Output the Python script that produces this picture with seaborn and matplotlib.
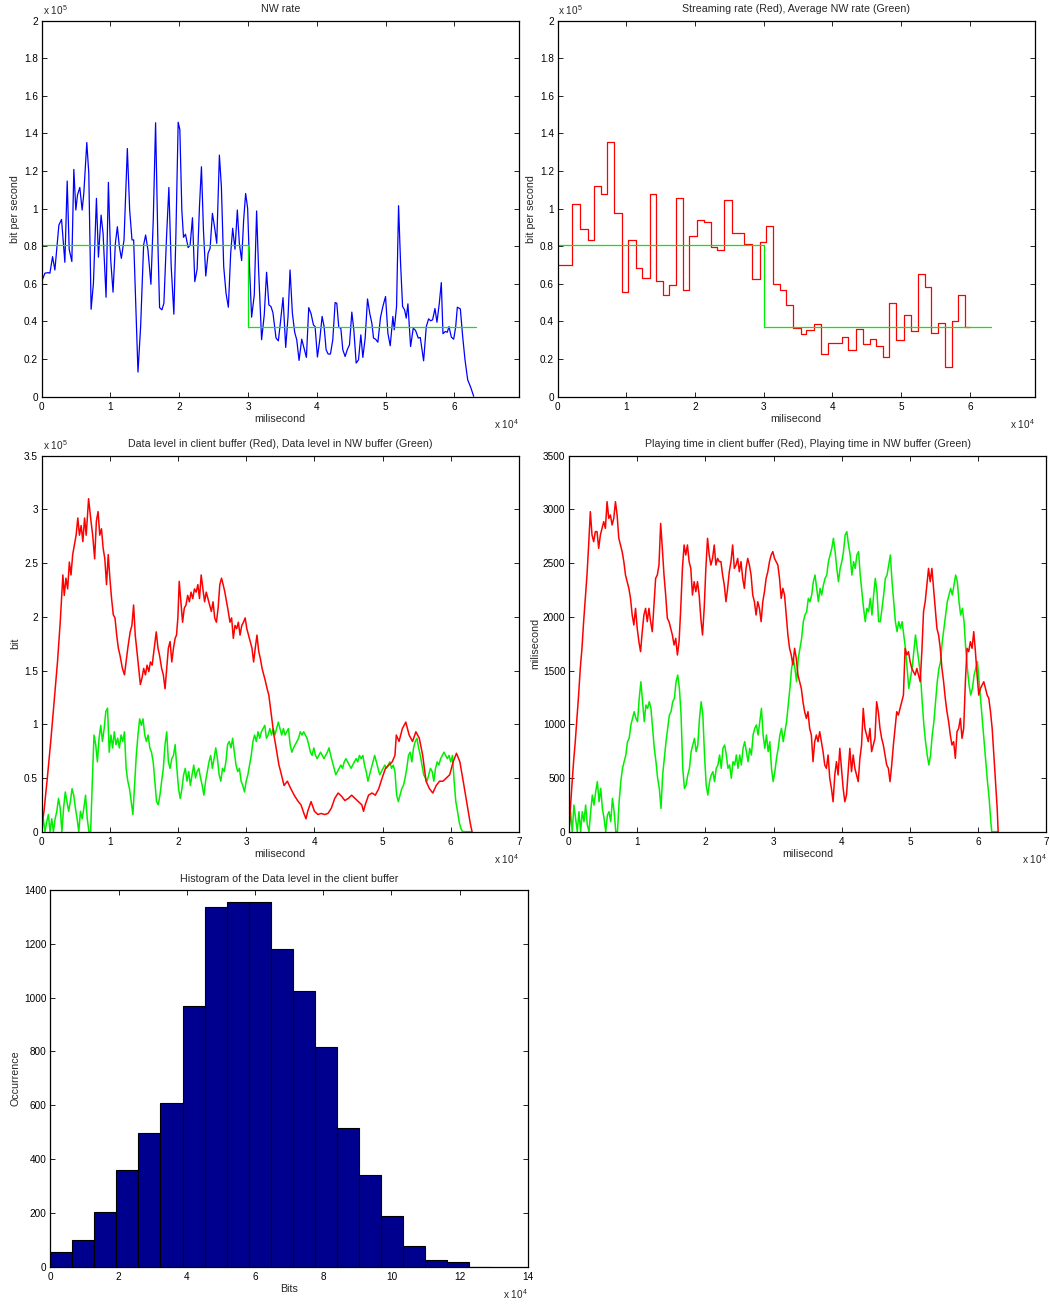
import numpy as np
import pandas as pd
import matplotlib
matplotlib.use("Agg")
import matplotlib.pyplot as plt
import seaborn as sns

# ---------------- data ----------------
# Panel 1: NW rate (blue). time in ms, rate in units of 1e4 bit/s
nw_t = [0, 483, 966, 1208, 1594, 1932, 2512, 2899, 3382, 3720, 4010, 4396, 4686, 4976, 5217, 5556,
        5894, 6135, 6570, 6860, 7198, 7536, 7971, 8261, 8647, 8937, 9372, 9710, 10048, 10386, 10725,
        11014, 11304, 11594, 11981, 12464, 12802, 13140, 13382, 14010, 14396, 14831, 15121, 15459,
        15894, 16232, 16570, 16908, 17150, 17488, 17778, 18164, 18502, 18841, 19227, 19517, 19855,
        20097, 20386, 20628, 20918, 21305, 21594, 21932, 22271, 22609, 22947, 23237, 23527, 23865,
        24203, 24493, 24831, 25169, 25459, 25845, 26135, 26473, 26812, 27150, 27488, 27778, 28116,
        28454, 28744, 29082, 29372, 29662, 29952, 30242, 30531, 30918, 31256, 31546, 31981, 32367,
        32705, 33043, 33333, 33623, 33961,
        34078, 34418, 34758, 35097, 35486, 35826, 36117, 36457, 36796, 37088, 37427, 37816, 38155,
        38495, 38835, 39175, 39515, 39757, 40097, 40437, 40777, 41068, 41359, 41650, 41990, 42330,
        42670, 42912, 43204, 43495, 43786, 44126, 44466, 44757, 45097, 45388, 45728, 46068, 46407,
        46699, 47038, 47378, 47718, 48009, 48252, 48543, 48883, 49271, 49611, 49999, 50339, 50679,
        51067, 51261, 51601, 51892, 52184, 52475, 52766, 53009, 53251, 53640, 54028, 54368, 54756,
        55047, 55533, 55921, 56261, 56552, 56843, 57183, 57474, 57814, 58105, 58348, 58688, 58979,
        59222, 59562, 59901, 60193, 60435, 60872, 61212, 61552, 61940, 62377, 62814]
nw_rate = [6.12, 6.57, 6.60, 6.57, 7.45, 6.74, 9.13, 9.43, 7.15, 11.47, 7.84, 7.19, 12.09, 9.93, 10.73,
           11.13, 9.93, 10.81, 13.52, 11.88, 4.65, 6.04, 10.55, 7.42, 9.66, 8.69, 5.29, 11.40, 7.27,
           5.56, 8.16, 9.04, 7.98, 7.36, 8.34, 13.20, 9.93, 8.34, 8.34, 1.31, 3.73, 8.07, 8.60, 7.81,
           5.98, 9.40, 14.57, 8.16, 4.74, 4.62, 4.97, 8.51, 11.13, 6.92, 4.39, 8.51, 14.60, 14.20,
           9.93, 8.48, 8.64, 7.93, 8.07, 9.52, 6.12, 6.78, 10.10, 12.23, 8.87, 6.42, 7.63, 7.89, 9.75,
           8.96, 8.16, 12.85, 11.17, 6.92, 5.50, 4.76, 7.63, 8.96, 7.84, 9.93, 8.16, 7.24, 9.40, 10.81,
           10.02, 6.74, 4.23, 5.42, 9.88, 6.74, 3.03, 4.35, 6.62, 4.88, 4.80, 4.48, 3.50,
           3.12, 2.97, 4.09, 5.27, 2.62, 4.27, 6.74, 4.44, 3.42, 3.03, 1.93, 3.06, 2.58, 2.09, 4.74,
           4.41, 3.82, 3.73, 2.11, 3.03, 4.27, 3.73, 2.50, 2.27, 2.27, 3.03, 5.01, 4.97, 3.68, 3.65,
           2.50, 2.14, 2.53, 2.76, 4.50, 3.56, 1.79, 1.96, 3.29, 2.09, 3.12, 5.20, 4.41, 3.91, 3.12,
           3.06, 2.90, 4.23, 4.80, 5.33, 3.38, 2.71, 4.27, 3.56, 4.80, 10.16, 7.10, 4.80, 4.62, 4.18,
           4.94, 2.67, 3.65, 3.52, 3.12, 3.15, 1.91, 3.73, 4.14, 4.04, 4.09, 4.69, 3.96, 4.97, 6.07,
           3.35, 3.47, 3.43, 3.73, 3.17, 3.06, 3.70, 4.76, 4.67, 3.20, 1.96, 0.90, 0.50, 0.02]

# Average NW rate (green), ms and bit/s
avg_t = [0, 30000, 30000, 63100]
avg_rate = [80700, 80700, 37100, 37100]

# Panel 2: streaming rate steps (red). edges in ms, rate in 1e4 bit/s
stream_edges = [0, 2100, 3300, 4400, 5300, 6400, 7200, 8200, 9400, 10200, 11400, 12300, 13400, 14300,
                15300, 16200, 17200, 18300, 19200, 20300, 21300, 22300, 23200, 24200, 25400, 27200,
                28300, 29400, 30300, 31300, 32300, 33300, 34300, 35400, 36200, 37300, 38300, 39300,
                41400, 42300, 43400, 44400, 45400, 46400, 47400, 48300, 49300, 50400, 51500, 52400,
                53400, 54400, 55400, 56400, 57400, 58300, 59300, 60000]
stream_rate = [7.0, 10.23, 8.9, 8.35, 11.2, 10.76, 13.53, 9.79, 5.57, 8.32, 6.84, 6.33, 10.78, 6.13,
               5.41, 5.92, 10.59, 5.66, 8.55, 9.41, 9.27, 7.98, 7.8, 10.44, 8.69, 8.12, 6.24, 8.21,
               9.06, 5.99, 5.66, 4.86, 3.63, 3.32, 3.53, 3.88, 2.25, 2.84, 3.19, 2.48, 3.58, 2.8, 3.05,
               2.7, 2.09, 4.98, 3.0, 4.36, 3.48, 6.52, 5.83, 3.37, 3.9, 1.6, 4.02, 5.41, 3.7]

# Panel 3: data level in client buffer (red): time in 1e4 ms, level in 1e5 bit
client_t = [0.000, 0.035, 0.084, 0.134, 0.183, 0.233, 0.273, 0.297, 0.312, 0.332,
            0.357, 0.382, 0.407, 0.431, 0.456, 0.481, 0.506, 0.531, 0.555, 0.580,
            0.605, 0.630, 0.654, 0.689, 0.719, 0.749, 0.778, 0.803, 0.828, 0.853,
            0.878, 0.902, 0.927, 0.952, 0.977, 1.001, 1.026, 1.051, 1.076, 1.101,
            1.125, 1.150, 1.185, 1.215, 1.239, 1.264, 1.299, 1.324, 1.349, 1.373,
            1.398, 1.423, 1.448, 1.472, 1.497, 1.522, 1.547, 1.572, 1.596, 1.621,
            1.646, 1.681, 1.706, 1.730, 1.760, 1.785, 1.810, 1.834, 1.859, 1.884,
            1.909, 1.934, 1.958, 1.978, 1.998, 2.018, 2.043, 2.067, 2.092, 2.117,
            2.142, 2.167, 2.191, 2.216, 2.241, 2.266, 2.291, 2.315, 2.340, 2.365,
            2.390, 2.414, 2.439, 2.464, 2.489, 2.514, 2.538, 2.563, 2.588, 2.613,
            2.638, 2.662, 2.687, 2.712, 2.737, 2.762, 2.786, 2.811, 2.836, 2.861,
            2.885, 2.910, 2.935, 2.960, 2.985, 3.009, 3.034, 3.059, 3.084, 3.109,
            3.133, 3.158, 3.183, 3.208, 3.233, 3.257, 3.282, 3.307, 3.332, 3.356,
            3.381, 3.406, 3.431, 3.456, 3.480, 3.505, 3.555, 3.604, 3.654, 3.704,
            3.753, 3.803, 3.852, 3.877, 3.902, 3.951, 4.001, 4.051, 4.100, 4.150,
            4.199, 4.249, 4.298, 4.348, 4.398, 4.447, 4.497, 4.546, 4.596, 4.646,
            4.695, 4.720, 4.745, 4.794, 4.844, 4.893, 4.943, 4.993, 5.042, 5.092,
            5.141, 5.181, 5.201, 5.241, 5.290, 5.340, 5.389, 5.439, 5.488, 5.538,
            5.588, 5.637, 5.687, 5.736, 5.786, 5.835, 5.885, 5.934, 5.984, 6.034,
            6.083, 6.133, 6.182, 6.232, 6.282, 6.311]
client_level = [0.03, 0.19, 0.50, 0.84, 1.21, 1.58, 1.95, 2.23, 2.39, 2.20,
                2.36, 2.26, 2.51, 2.39, 2.58, 2.67, 2.76, 2.92, 2.76, 2.85,
                2.70, 2.92, 2.76, 3.10, 2.92, 2.76, 2.54, 2.89, 2.98, 2.76,
                2.82, 2.64, 2.54, 2.30, 2.58, 2.36, 2.17, 2.02, 1.99, 1.83,
                1.71, 1.64, 1.52, 1.46, 1.58, 1.71, 1.86, 1.92, 2.11, 1.83,
                1.68, 1.52, 1.37, 1.43, 1.52, 1.46, 1.55, 1.49, 1.58, 1.55,
                1.68, 1.86, 1.71, 1.64, 1.52, 1.46, 1.33, 1.52, 1.71, 1.77,
                1.58, 1.71, 1.80, 1.83, 1.99, 2.33, 2.14, 1.95, 2.08, 2.11,
                2.20, 2.14, 2.23, 2.17, 2.26, 2.23, 2.30, 2.17, 2.39, 2.26,
                2.14, 2.23, 2.17, 2.11, 2.05, 2.14, 1.99, 1.95, 2.08, 2.30,
                2.36, 2.30, 2.23, 2.14, 2.05, 1.95, 1.99, 1.80, 1.92, 1.89,
                1.95, 1.83, 1.92, 1.95, 1.99, 1.89, 1.83, 1.77, 1.71, 1.58,
                1.71, 1.83, 1.68, 1.61, 1.52, 1.46, 1.40, 1.33, 1.27, 1.15,
                1.02, 0.90, 0.81, 0.71, 0.62, 0.56, 0.43, 0.47, 0.40, 0.34,
                0.29, 0.25, 0.16, 0.12, 0.19, 0.28, 0.19, 0.16, 0.17, 0.16,
                0.17, 0.22, 0.31, 0.36, 0.33, 0.29, 0.31, 0.34, 0.31, 0.28,
                0.25, 0.19, 0.25, 0.34, 0.36, 0.34, 0.40, 0.50, 0.59, 0.62,
                0.65, 0.71, 0.90, 0.84, 0.96, 1.02, 0.90, 0.84, 0.93, 0.87,
                0.71, 0.47, 0.40, 0.36, 0.43, 0.47, 0.47, 0.50, 0.53, 0.65,
                0.73, 0.65, 0.47, 0.28, 0.09, 0.00]

# Panel 3: data level in NW buffer (green), sampled every 247.9 ms, level in 1e5 bit
nwbuf_step_ms = 247.9
nwbuf_end_ms = 63110
nwbuf_level = [0, 0.12, 0, 0.09, 0.16, 0, 0.12, 0, 0.12, 0.19,
               0.31, 0.22, 0, 0.22, 0.37, 0.28, 0.19, 0.28, 0.40, 0.34,
               0.22, 0.12, 0, 0.19, 0.12, 0.22, 0.34, 0.12, 0, 0,
               0.47, 0.90, 0.81, 0.65, 0.87, 0.99, 0.84, 0.96, 1.12, 1.15,
               0.74, 0.90, 0.78, 0.93, 0.81, 0.87, 0.78, 0.90, 0.84, 0.93,
               0.59, 0.47, 0.40, 0.28, 0.16, 0.43, 0.71, 0.90, 1.05, 0.99,
               1.05, 0.90, 0.84, 0.90, 0.78, 0.74, 0.65, 0.47, 0.28, 0.25,
               0.34, 0.47, 0.59, 0.81, 0.93, 0.65, 0.59, 0.68, 0.71, 0.81,
               0.59, 0.40, 0.31, 0.40, 0.53, 0.59, 0.47, 0.56, 0.43, 0.53,
               0.62, 0.50, 0.56, 0.59, 0.50, 0.43, 0.34, 0.47, 0.56, 0.65,
               0.71, 0.59, 0.68, 0.78, 0.68, 0.53, 0.47, 0.59, 0.56, 0.65,
               0.81, 0.84, 0.78, 0.87, 0.74, 0.62, 0.56, 0.59, 0.47, 0.43,
               0.37, 0.47, 0.53, 0.62, 0.71, 0.84, 0.90, 0.84, 0.93, 0.87,
               0.93, 0.96, 0.99, 0.87, 0.90, 0.96, 0.90, 0.96, 0.90, 0.96,
               1.02, 0.96, 0.90, 0.96, 0.90, 0.93, 0.96, 0.81, 0.74, 0.78,
               0.81, 0.84, 0.87, 0.93, 0.90, 0.93, 0.90, 0.87, 0.81, 0.74,
               0.71, 0.78, 0.71, 0.68, 0.71, 0.74, 0.71, 0.68, 0.71, 0.74,
               0.78, 0.71, 0.65, 0.59, 0.53, 0.56, 0.59, 0.62, 0.59, 0.65,
               0.68, 0.65, 0.62, 0.59, 0.62, 0.65, 0.68, 0.65, 0.71, 0.68,
               0.71, 0.62, 0.56, 0.47, 0.53, 0.59, 0.65, 0.71, 0.65, 0.59,
               0.53, 0.56, 0.59, 0.62, 0.59, 0.62, 0.65, 0.59, 0.62, 0.56,
               0.34, 0.28, 0.34, 0.40, 0.43, 0.50, 0.59, 0.71, 0.74, 0.65,
               0.78, 0.84, 0.87, 0.78, 0.71, 0.62, 0.53, 0.50, 0.47, 0.53,
               0.59, 0.56, 0.47, 0.59, 0.65, 0.62, 0.68, 0.71, 0.74, 0.71,
               0.68, 0.71, 0.65, 0.71, 0.47, 0.28, 0.19, 0.09, 0.03, 0]

# Panel 4: playing time in client buffer (red), ms; samples from 442 ms every 245.5 ms
play_client_start_ms = 442
play_step_ms = 245.5
play_end_ms = 62940
play_client = [434, 652, 838, 1055, 1272, 1520, 1707, 1955, 2172, 2389,
               2669, 2979, 2762, 2700, 2793, 2793, 2638, 2762, 2824, 2886,
               2824, 3072, 2917, 2948, 2855, 2917, 3072, 2948, 2731, 2669,
               2607, 2514, 2389, 2327, 2265, 2172, 2017, 1924, 2079, 1893,
               1769, 1676, 1862, 2017, 2079, 1955, 2079, 1955, 1862, 2110,
               2358, 2389, 2482, 2870, 2638, 2389, 2203, 1986, 1955,
               1893, 1831, 1738, 1800, 1645, 1769, 2079, 2451, 2669, 2576,
               2669, 2514, 2451, 2203, 2327, 2234, 2327, 2203, 1986, 1831,
               2079, 2451, 2731, 2576, 2482, 2544, 2669, 2482, 2544, 2514,
               2514, 2389, 2296, 2141, 2265, 2420, 2514, 2669, 2451, 2482,
               2544, 2420, 2514, 2358, 2265, 2451, 2544, 2482, 2389, 2203,
               2141, 2017, 2141, 2079, 1955, 2141, 2234, 2358, 2420, 2514,
               2576, 2607, 2544, 2514, 2482, 2358, 2172, 2265, 2203, 2017,
               1831, 1707, 1645, 1552, 1707, 1614, 1458, 1396, 1334, 1210,
               1117, 1055, 1117, 962, 900, 652, 838, 900, 838, 931,
               838, 745, 621, 590, 714, 497, 403, 279, 528, 652,
               528, 776, 590, 403, 279, 341, 559, 776, 559, 714,
               590, 528, 466, 683, 807, 1148, 962, 900, 838, 962,
               745, 807, 869, 1210, 1117, 962, 869, 807, 714, 621,
               590, 466, 621, 807, 962, 1117, 1086, 1148, 1210, 1272,
               1707, 1645, 1676, 1583, 1520, 1489, 1458, 1520, 1458, 1396,
               1676, 2048, 2141, 2296, 2451, 2327, 2451, 2265, 2079, 1893,
               1831, 1707, 1520, 1396, 1241, 1117, 1024, 900, 807, 838,
               683, 931, 962, 1055, 869, 962, 1396, 1707, 1676, 1769,
               1707, 1862, 1676, 1458, 1272, 1334, 1365, 1396, 1334, 1272,
               1241, 1117, 962, 714, 466, 217]

# Panel 4: playing time in NW buffer (green), ms; samples from 0 every 245.5 ms
play_nw_zero_ms = 62000
play_nw = [0, 186, 0, 248, 124, 0, 186, 0, 186, 93,
           248, 62, 0, 186, 341, 248, 372, 466, 279, 403,
           217, 124, 0, 155, 186, 93, 310, 186, 0, 0,
           279, 466, 590, 652, 714, 838, 869, 993, 1055, 1117,
           1055, 1024, 1241, 1396, 1210, 1024, 1179, 1148, 1210, 1148,
           962, 776, 652, 497, 403, 217, 528, 683, 838, 962,
           1086, 1117, 1210, 1241, 1396, 1458, 1334, 1086, 590, 403,
           434, 528, 590, 745, 807, 869, 745, 807, 1055, 1210,
           1086, 714, 434, 341, 466, 528, 559, 466, 590, 621,
           714, 590, 776, 807, 714, 590, 621, 497, 652, 621,
           714, 590, 714, 621, 776, 838, 745, 652, 776, 714,
           900, 962, 993, 900, 1024, 1148, 900, 776, 900, 745,
           838, 590, 466, 559, 683, 776, 900, 962, 838, 931,
           1024, 1179, 1334, 1520, 1614, 1520, 1396, 1614, 1707, 1800,
           1955, 2017, 2048, 2172, 2141, 2203, 2327, 2389, 2265, 2141,
           2265, 2203, 2296, 2358, 2389, 2514, 2576, 2638, 2731, 2607,
           2451, 2327, 2451, 2514, 2607, 2762, 2793, 2669, 2576, 2389,
           2514, 2451, 2576, 2607, 2389, 2234, 2079, 1955, 2079, 2048,
           2172, 2017, 2203, 2358, 2234, 1955, 1955, 2079, 2203, 2358,
           2389, 2482, 2576, 2327, 2141, 1955, 1862, 1955, 1893, 1955,
           1831, 1707, 1520, 1334, 1427, 1520, 1676, 1831, 1707, 1583,
           1458, 1210, 993, 838, 714, 621, 714, 900, 1024, 1210,
           1396, 1520, 1583, 1769, 1893, 2017, 2141, 2203, 2265, 2203,
           2296, 2389, 2327, 2141, 2017, 2079, 1955, 1707, 1520, 1365,
           1272, 1334, 1458, 1520, 1583, 1396, 1210, 1024, 838, 652,
           466, 310, 93]

# Panel 5: histogram of the data level in the client buffer
hist_bin_width = 6460
hist_counts = [55, 99, 203, 358, 498, 610, 969, 1336, 1355, 1357,
               1180, 1026, 818, 514, 342, 188, 78, 25, 19, 0]

# ---------------- derived series ----------------
nw_t = np.array(nw_t, float)
nw_rate = np.array(nw_rate) * 1e4
st_x = np.array(stream_edges, float)
st_y = np.append(np.array(stream_rate), stream_rate[-1]) * 1e4

cl_t = np.array(client_t) * 1e4
cl_v = np.array(client_level) * 1e5
nb_t = np.append(np.arange(len(nwbuf_level)) * nwbuf_step_ms, nwbuf_end_ms)
nb_v = np.append(np.array(nwbuf_level), 0.0) * 1e5

pc_t = np.concatenate([[0.0], play_client_start_ms + np.arange(len(play_client)) * play_step_ms, [play_end_ms]])
pc_v = np.concatenate([[0.0], play_client, [0.0]])
pn_t = np.concatenate([np.arange(len(play_nw)) * play_step_ms, [play_nw_zero_ms, play_end_ms]])
pn_v = np.concatenate([play_nw, [0.0, 0.0]])

n_bins = len(hist_counts)
hist_df = pd.DataFrame({
    "bits": (np.arange(n_bins) + 0.5) * hist_bin_width,
    "count": hist_counts,
})

# ---------------- style ----------------
sns.set_style("ticks")
plt.rcParams["font.family"] = ["Liberation Sans", "DejaVu Sans"]
plt.rcParams["mathtext.fontset"] = "custom"
plt.rcParams["mathtext.rm"] = "Liberation Sans"
plt.rcParams["mathtext.it"] = "Liberation Sans:italic"

BLUE, RED, GREEN, NAVY = "#0000ff", "#ff0000", "#00ee00", "#00008f"
TICK_FS, LAB_FS = 7.2, 7.7

fig = plt.figure(figsize=(10.5, 13.05), dpi=100)
W, H = 1050.0, 1305.0


def make_ax(left, top, right, bottom):
    return fig.add_axes([left / W, 1 - bottom / H, (right - left) / W, (bottom - top) / H])


def style(ax, xlim, xticks, xlabels, ylim, yticks, ylabels, title, xlabel, ylabel,
          yexp=None, xexp=True, ylabelpad=3):
    ax.set_xlim(*xlim)
    ax.set_ylim(*ylim)
    ax.set_xticks(xticks)
    ax.set_xticklabels(xlabels)
    ax.set_yticks(yticks)
    ax.set_yticklabels(ylabels)
    ax.tick_params(axis="both", direction="in", top=True, right=True, length=3.5,
                   width=0.6, labelsize=TICK_FS, colors="black")
    ax.tick_params(axis="x", pad=3.5)
    ax.tick_params(axis="y", pad=2.6)
    for s in ax.spines.values():
        s.set_linewidth(0.9)
        s.set_color("black")
    ax.set_title(title, fontsize=LAB_FS, pad=6)
    ax.set_xlabel(xlabel, fontsize=LAB_FS, labelpad=1.5)
    ax.set_ylabel(ylabel, fontsize=LAB_FS, labelpad=ylabelpad)
    if yexp:
        ax.text(0.002, 1.01, yexp, transform=ax.transAxes, ha="left", va="bottom", fontsize=7.2)
    if xexp:
        ax.text(1.0, -0.074, r"x 10$^{4}$", transform=ax.transAxes, ha="right", va="center", fontsize=7.2)


rate_ticks = np.arange(0, 200001, 20000)
rate_labels = ["0", "0.2", "0.4", "0.6", "0.8", "1", "1.2", "1.4", "1.6", "1.8", "2"]
t6 = np.arange(0, 60001, 10000)
t6_labels = [str(i) for i in range(7)]
t7 = np.arange(0, 70001, 10000)
t7_labels = [str(i) for i in range(8)]

# Panel 1
ax1 = make_ax(41.6, 20.7, 519.0, 396.7)
sns.lineplot(x=nw_t, y=nw_rate, ax=ax1, color=BLUE, linewidth=0.9, sort=False, estimator=None)
sns.lineplot(x=avg_t, y=avg_rate, ax=ax1, color=GREEN, linewidth=0.9, sort=False, estimator=None)
style(ax1, (0, 69400), t6, t6_labels, (0, 200000), rate_ticks, rate_labels,
      "NW rate", "milisecond", "bit per second", yexp=r"x 10$^{5}$")

# Panel 2
ax2 = make_ax(557.5, 20.7, 1034.5, 396.7)
sns.lineplot(x=st_x, y=st_y, ax=ax2, color=RED, linewidth=0.9, sort=False, estimator=None,
             drawstyle="steps-post")
sns.lineplot(x=avg_t, y=avg_rate, ax=ax2, color=GREEN, linewidth=0.9, sort=False, estimator=None)
style(ax2, (0, 69400), t6, t6_labels, (0, 200000), rate_ticks, rate_labels,
      "Streaming rate (Red), Average NW rate (Green)", "milisecond", "bit per second",
      yexp=r"x 10$^{5}$")

# Panel 3
ax3 = make_ax(41.6, 455.7, 519.0, 831.7)
sns.lineplot(x=nb_t, y=nb_v, ax=ax3, color=GREEN, linewidth=1.1, sort=False, estimator=None)
sns.lineplot(x=cl_t, y=cl_v, ax=ax3, color=RED, linewidth=1.1, sort=False, estimator=None)
style(ax3, (0, 70000), t7, t7_labels, (0, 350000), np.arange(0, 350001, 50000),
      ["0", "0.5", "1", "1.5", "2", "2.5", "3", "3.5"],
      "Data level in client buffer (Red), Data level in NW buffer (Green)", "milisecond", "bit",
      yexp=r"x 10$^{5}$")

# Panel 4
ax4 = make_ax(568.9, 455.7, 1046.3, 831.7)
sns.lineplot(x=pn_t, y=pn_v, ax=ax4, color=GREEN, linewidth=1.1, sort=False, estimator=None)
sns.lineplot(x=pc_t, y=pc_v, ax=ax4, color=RED, linewidth=1.1, sort=False, estimator=None)
style(ax4, (0, 70000), t7, t7_labels, (0, 3500), np.arange(0, 3501, 500),
      [str(v) for v in range(0, 3501, 500)],
      "Playing time in client buffer (Red), Playing time in NW buffer (Green)", "milisecond",
      "milisecond", ylabelpad=2)

# Panel 5
ax5 = make_ax(50.3, 890.0, 527.9, 1266.7)
sns.histplot(data=hist_df, x="bits", weights="count", binwidth=hist_bin_width,
             binrange=(0, n_bins * hist_bin_width), ax=ax5, color=NAVY,
             edgecolor="black", linewidth=0.8, alpha=1.0)
style(ax5, (0, 140000), np.arange(0, 140001, 20000), [str(v) for v in range(0, 15, 2)],
      (0, 1400), np.arange(0, 1401, 200), [str(v) for v in range(0, 1401, 200)],
      "Histogram of the Data level in the client buffer", "Bits", "Occurrence")

fig.savefig("out.png", dpi=100)
